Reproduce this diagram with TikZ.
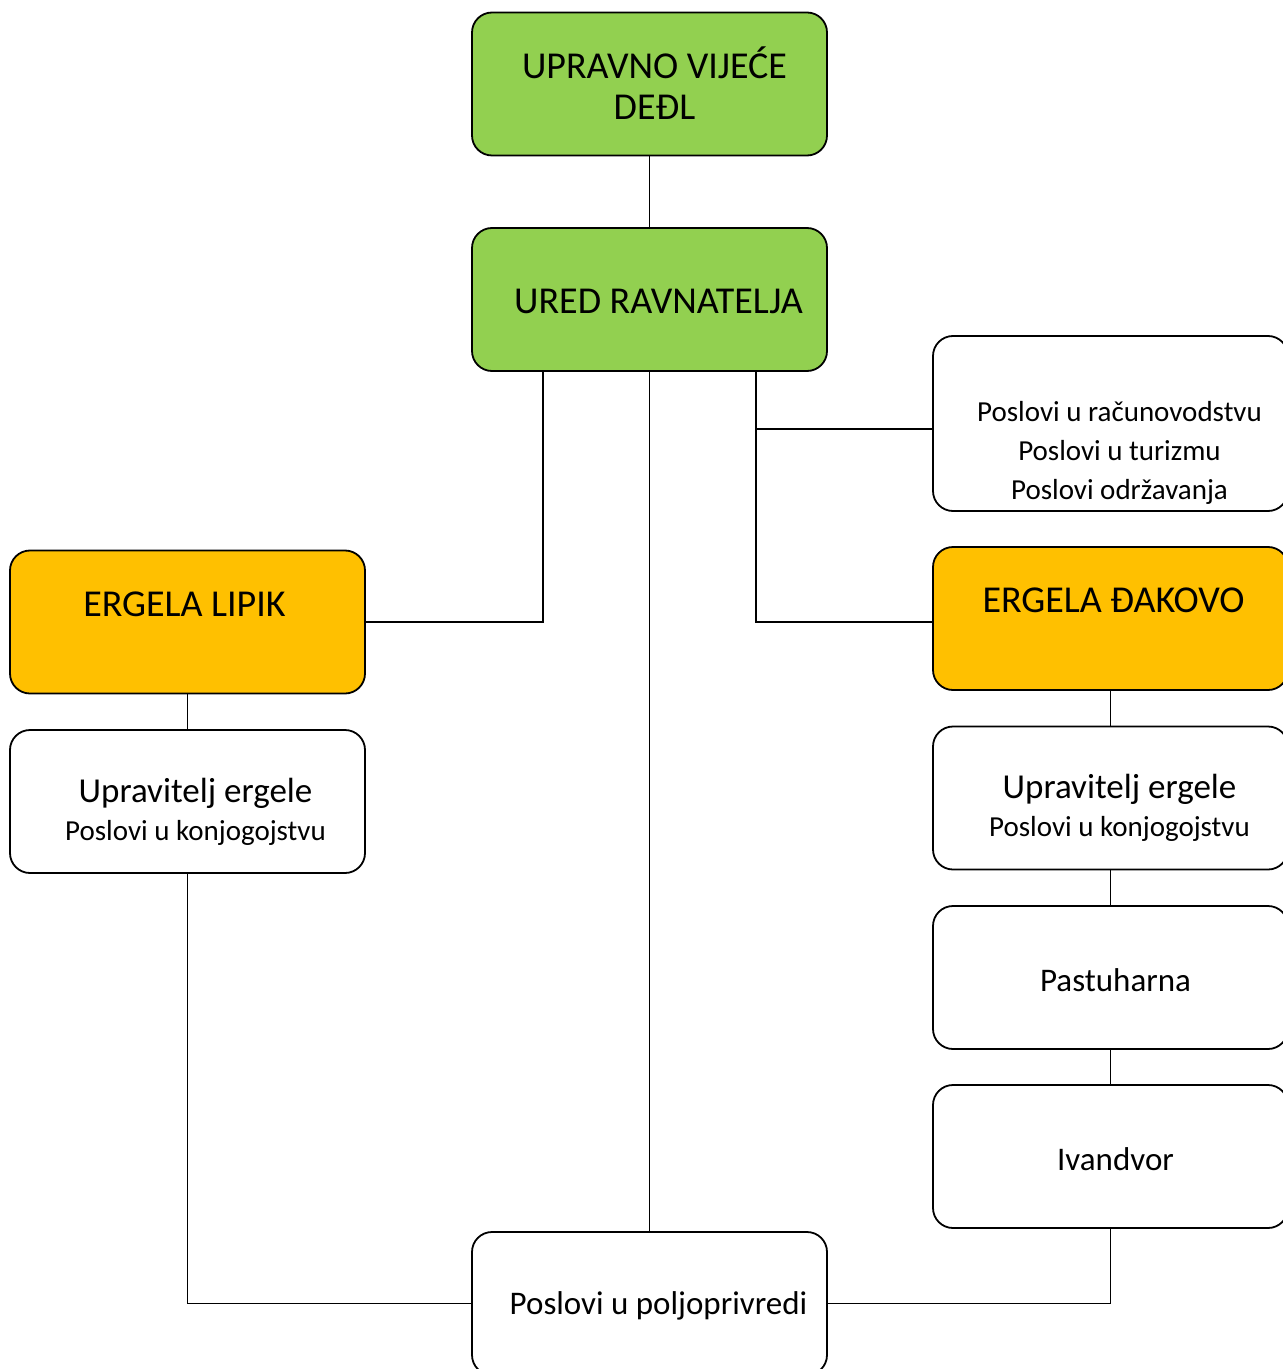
\documentclass[tikz,border=0pt]{standalone}
\usepackage{fontspec}
\setmainfont{Carlito}
\usetikzlibrary{positioning}
\definecolor{uvgreen}{HTML}{92D050}
\definecolor{ergorange}{HTML}{FFC000}
\tikzset{
	orgbox/.style={draw, rounded corners=10pt, line width=0.9pt,
		minimum width=177.5pt, minimum height=71.5pt, inner sep=0pt},
	greenbox/.style={orgbox, fill=uvgreen},
	orangebox/.style={orgbox, fill=ergorange},
	whitebox/.style={orgbox, fill=white},
	bigtext/.style={font=\fontsize{19}{20.5}\selectfont, align=center},
	midtext/.style={font=\fontsize{16.5}{19}\selectfont, align=center},
	smalltext/.style={font=\fontsize{14.5}{19.5}\selectfont, align=center},
	link/.style={line width=0.75pt}
}
\begin{document}
\begin{tikzpicture}[x=0.5pt,y=-0.5pt]
	\useasboundingbox (0,0) rectangle (1282,1369);
	% boxes
	\node[greenbox] (UV) at (649.5,84) {};
	\node[greenbox] (UR) at (649.5,299.5) {};
	\node[whitebox, minimum height=87.5pt] (SL) at (1110.5,423.5) {};
	\node[orangebox] (EL) at (187.5,622) {};
	\node[orangebox] (ED) at (1110.5,618.5) {};
	\node[whitebox] (UL) at (187.5,801.5) {};
	\node[whitebox] (UD) at (1110.5,798) {};
	\node[whitebox] (PA) at (1110.5,977.5) {};
	\node[whitebox] (IV) at (1110.5,1156.5) {};
	\node[whitebox] (PP) at (649.5,1303.5) {};
	% texts
	\node[bigtext] (UVtxt) at ([shift={(5,-1)}]UV.center) {UPRAVNO VIJEĆE\\DEĐL};
	\node[bigtext] (URtxt) at ([shift={(9,2)}]UR.center) {URED RAVNATELJA};
	\node[smalltext] (SLtxt) at ([shift={(9,29)}]SL.center)
		{Poslovi u računovodstvu\\Poslovi u turizmu\\Poslovi održavanja};
	\node[bigtext] (ELtxt) at ([shift={(-3,-18)}]EL.center) {ERGELA LIPIK};
	\node[bigtext] (EDtxt) at ([shift={(3,-18)}]ED.center) {ERGELA ĐAKOVO};
	\node[font=\fontsize{14.5}{19}\selectfont, align=center] (ULtxt) at ([shift={(8,10)}]UL.center)
		{{\fontsize{17.5}{19}\selectfont Upravitelj ergele}\\
		Poslovi u konjogojstvu};
	\node[font=\fontsize{14.5}{19}\selectfont, align=center] (UDtxt) at ([shift={(9,10)}]UD.center)
		{{\fontsize{17.5}{19}\selectfont Upravitelj ergele}\\
		Poslovi u konjogojstvu};
	\node[midtext] (PAtxt) at ([shift={(5,3)}]PA.center) {Pastuharna};
	\node[midtext] (IVtxt) at ([shift={(5,3)}]IV.center) {Ivandvor};
	\node[midtext] (PPtxt) at ([shift={(9,2)}]PP.center) {Poslovi u poljoprivredi};
	% connectors
	\coordinate (URl) at ([shift={(-106.5,0)}]UR.south);
	\coordinate (URr) at ([shift={(106.5,0)}]UR.south);
	\draw[link] (UV) -- (UR);
	\draw[link] (URl) |- (EL.east);
	\draw[link] (UR) -- (PP);
	\draw[link] (URr) |- ([shift={(0,3.5)}]ED.west);
	\draw[link] ([shift={(0,5.5)}]SL.west) -- ([shift={(0,5.5)}]SL.west -| URr);
	\draw[link] (EL) -- (UL);
	\draw[link] (UL.south) |- (PP.west);
	\draw[link] (ED) -- (UD);
	\draw[link] (UD) -- (PA);
	\draw[link] (PA) -- (IV);
	\draw[link] (IV.south) |- (PP.east);
\end{tikzpicture}
\end{document}
